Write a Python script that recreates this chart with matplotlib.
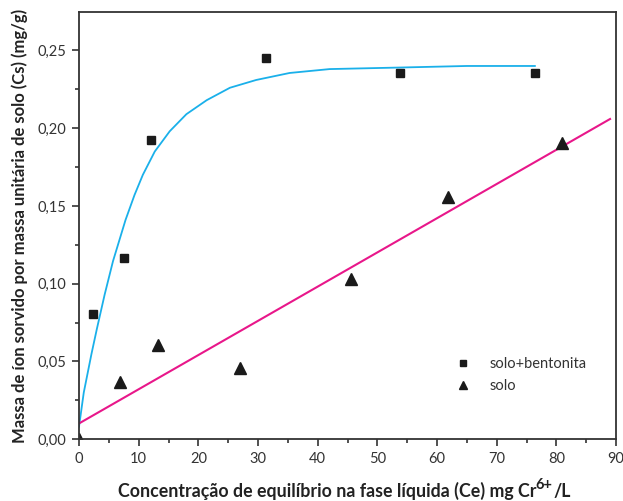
import matplotlib
matplotlib.use('Agg')
from matplotlib import pyplot as plt
from matplotlib.ticker import MultipleLocator, FuncFormatter

plt.rcParams['font.family'] = ['Lato', 'DejaVu Sans']

# solo+bentonita (squares)
sb_x = [2.35, 7.5, 12.1, 31.3, 53.8, 76.4]
sb_y = [0.0805, 0.1165, 0.1924, 0.2452, 0.2353, 0.2353]

# solo (triangles)
s_x = [0.0, 6.9, 13.3, 27.0, 45.6, 61.8, 80.9]
s_y = [0.0, 0.0367, 0.0605, 0.0455, 0.1032, 0.1557, 0.1903]

# fitted curve for solo+bentonita
fit_sb_x = [0, 0.8, 2.1, 3.0, 4.3, 5.7, 7.8, 9.3, 10.7, 12.7, 15.2, 18.0,
            21.4, 25.3, 29.7, 35.3, 42.0, 53.8, 65.0, 76.4]
fit_sb_y = [0.008, 0.030, 0.055, 0.071, 0.093, 0.1145, 0.141, 0.157, 0.170,
            0.185, 0.198, 0.209, 0.218, 0.226, 0.231, 0.2355, 0.238, 0.239,
            0.240, 0.240]

# linear fit for solo
fit_s_x = [0, 89.0]
fit_s_y = [0.0101, 0.2059]

fig = plt.figure(figsize=(6.23, 5.01), dpi=100)
ax = fig.add_axes([0.1268, 0.1234, 0.862, 0.8520])

ax.plot(fit_sb_x, fit_sb_y, color='#1ab0ea', lw=1.3)
ax.plot(fit_s_x, fit_s_y, color='#e8178a', lw=1.5)
ax.plot(sb_x, sb_y, 's', color='#1a1a1a', ms=5.5, label='solo+bentonita')
ax.plot(s_x, s_y, '^', color='#1a1a1a', ms=8, label='solo')

ax.set_xlim(0, 90)
ax.set_ylim(0, 0.2745)
ax.xaxis.set_major_locator(MultipleLocator(10))
ax.xaxis.set_minor_locator(MultipleLocator(5))
ax.yaxis.set_major_locator(MultipleLocator(0.05))
ax.yaxis.set_minor_locator(MultipleLocator(0.025))
ax.yaxis.set_major_formatter(FuncFormatter(lambda v, p: ('%.2f' % v).replace('.', ',')))

for s in ax.spines.values():
    s.set_linewidth(1.3)
    s.set_color('#333333')
ax.tick_params(which='major', direction='out', length=5, width=1.2, color='#333333',
               labelsize=10.5, labelcolor='#333333', pad=4)
ax.tick_params(which='minor', direction='out', length=3, width=1.2, color='#333333')

# x label built in pieces so the superscript can be large like the original
lab = dict(fontweight='bold', color='#222222')
t1 = fig.text(0.1894, 0.008, 'Concentração de equilíbrio na fase líquida (Ce) mg Cr',
              fontsize=12.8, va='baseline', ha='left', **lab)
t2 = ax.annotate('6+', xy=(1, 0), xycoords=t1, xytext=(-0.5, 6), textcoords='offset points',
                 fontsize=10.5, va='bottom', ha='left', annotation_clip=False, **lab)
t3 = ax.annotate('/L', xy=(1, 0), xycoords=(t2, t1), xytext=(0.5, 0),
                 textcoords='offset points', fontsize=12.8, va='bottom', ha='left',
                 annotation_clip=False, **lab)

ax.set_ylabel('Massa de íon sorvido por massa unitária de solo (Cs) (mg/g)',
              fontsize=12, fontweight='bold', color='#222222', labelpad=7)

leg = ax.legend(loc='upper left', bbox_to_anchor=(0.688, 0.193), frameon=False,
                borderaxespad=0, borderpad=0, fontsize=10.5, handletextpad=0.8,
                labelspacing=0.55, markerscale=0.8)
for t in leg.get_texts():
    t.set_color('#333333')

fig.savefig('out.png', dpi=100)
